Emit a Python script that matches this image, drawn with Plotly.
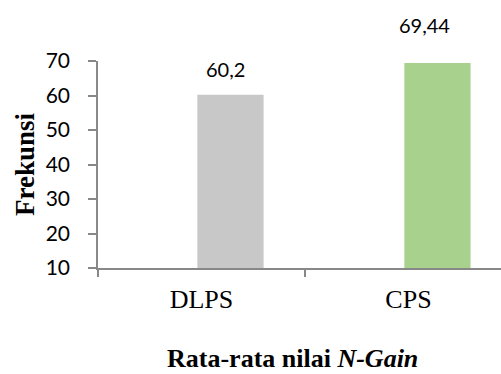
import plotly.graph_objects as go

categories = ["DLPS", "CPS"]
values = [60.2, 69.44]
bar_colors = ["#C8C8C8", "#A9D18E"]
y_ticks = [10, 20, 30, 40, 50, 60, 70]
label_xshift = [24.5, 16.5]
label_yshift = [26, 38]

fig = go.Figure()
fig.add_trace(go.Bar(
    x=categories, y=values,
    marker=dict(color=bar_colors, line=dict(width=0)),
    width=0.32, offset=-0.02,
    showlegend=False, hoverinfo="skip",
))

for c, v, dx, dy in zip(categories, values, label_xshift, label_yshift):
    fig.add_annotation(
        x=c, y=v, xref="x", yref="y",
        text=f"{v:g}".replace(".", ","),
        showarrow=False, xanchor="center", yanchor="middle",
        xshift=dx, yshift=dy,
        font=dict(family="Lato", size=20, color="#000000"),
    )

fig.add_annotation(
    x=(292 - 98) / 403, y=-(358 - 268) / 207, xref="paper", yref="paper",
    text="Rata-rata nilai <i>N-Gain</i>", showarrow=False,
    xanchor="center", yanchor="middle",
    font=dict(family="Liberation Serif", size=26, color="#000000", weight="bold"),
)
fig.add_annotation(
    x=(24.5 - 98) / 403, y=0.5, xref="paper", yref="paper",
    text="Frekunsi", showarrow=False, textangle=-90,
    xanchor="center", yanchor="middle",
    font=dict(family="Liberation Serif", size=27, color="#000000", weight="bold"),
)

fig.update_layout(
    width=501, height=374,
    margin=dict(l=98, r=0, t=61, b=106, pad=0),
    paper_bgcolor="white", plot_bgcolor="white",
    xaxis=dict(
        type="category", range=[-0.5, 1.447],
        showline=True, linecolor="#888888", linewidth=1.5,
        ticks="outside", tickson="boundaries", ticklen=7, tickcolor="#888888", tickwidth=1.5,
        showgrid=False, zeroline=False,
        tickfont=dict(family="Liberation Serif", size=26, color="#000000"),
        ticklabelstandoff=7,
    ),
    yaxis=dict(
        range=[10, 70], tickvals=y_ticks,
        showline=True, linecolor="#888888", linewidth=1.5,
        ticks="outside", ticklen=8, tickcolor="#888888", tickwidth=1.5,
        showgrid=False, zeroline=False,
        tickfont=dict(family="Lato", size=21, color="#000000"),
        ticklabelstandoff=14,
    ),
)

fig.write_html("out.html")
